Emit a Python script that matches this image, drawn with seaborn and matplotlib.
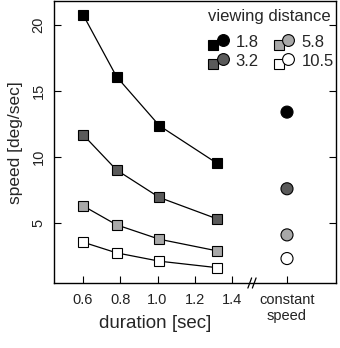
import numpy as np
import pandas as pd
import matplotlib.pyplot as plt
import seaborn as sns
from matplotlib.lines import Line2D
from matplotlib.legend_handler import HandlerBase
from matplotlib.transforms import blended_transform_factory


durations = [0.6, 0.78, 1.01, 1.32]
speed_18 = [20.75, 16.06, 12.35, 9.5]
speed_32 = [11.67, 9.0, 6.92, 5.3]
speed_58 = [6.29, 4.85, 3.76, 2.88]
speed_105 = [3.54, 2.73, 2.1, 1.61]
constant_speed = [13.38, 7.58, 4.09, 2.3]
distances = ['1.8', '3.2', '5.8', '10.5']
colors = ['#000000', '#5a5a5a', '#a8a8a8', '#ffffff']
x_ticks = [0.6, 0.8, 1.0, 1.2, 1.4]
x_constant = 1.695


class PairHandler(HandlerBase):
    # square behind, circle on top, like the original key
    def create_artists(self, legend, orig_handle, xdescent, ydescent,
                       width, height, fontsize, trans):
        fc = orig_handle.get_markerfacecolor()
        x0, y0 = -xdescent, -ydescent
        sq = Line2D([x0 + width * 0.3], [y0 + height * 0.2], marker='s',
                    ms=7, mfc=fc, mec='black', mew=0.8, ls='none', transform=trans)
        ci = Line2D([x0 + width * 0.68], [y0 + height * 0.6], marker='o',
                    ms=8.5, mfc=fc, mec='black', mew=0.8, ls='none', transform=trans)
        return [sq, ci]


sns.set_theme(style='ticks')
plt.rcParams['font.family'] = ['Liberation Sans', 'DejaVu Sans']

fig = plt.figure(figsize=(3.4, 3.48), dpi=100)
ax = fig.add_axes([0.1588, 0.1868, 0.8294, 0.8089])

series = [speed_18, speed_32, speed_58, speed_105]
for vals, col in zip(series, colors):
    sns.lineplot(x=durations, y=vals, ax=ax, color='black', linewidth=0.9,
                 marker='s', markersize=7, markerfacecolor=col,
                 markeredgecolor='black', markeredgewidth=0.8)

df = pd.DataFrame({'x': [x_constant] * 4, 'y': constant_speed, 'd': distances})
sns.scatterplot(data=df, x='x', y='y', hue='d', palette=colors, ax=ax,
                s=75, edgecolor='black', linewidth=0.8, legend=False, zorder=3)

ax.set_xlim(0.444, 1.958)
ax.set_ylim(0.45, 21.75)
ax.set_xticks(x_ticks + [x_constant])
ax.set_xticklabels(['0.6', '0.8', '1.0', '1.2', '1.4', 'constant\nspeed'])
ax.set_yticks([5, 10, 15, 20])
ax.set_yticklabels(['5', '10', '15', '20'], rotation=90, va='center')
ax.tick_params(axis='both', direction='in', length=5, width=0.8,
               labelsize=10.5, color='black', labelcolor='#222222')
ax.tick_params(axis='x', pad=7)
ax.tick_params(axis='y', pad=6, right=True)
for sp in ax.spines.values():
    sp.set_visible(True)
    sp.set_color('black')
    sp.set_linewidth(1.0)

ax.set_xlabel('duration [sec]', fontsize=13.5)
ax.xaxis.set_label_coords(0.36, -0.115)
ax.set_ylabel('speed [deg/sec]', fontsize=12.5, labelpad=6)

# axis break marks
tr = blended_transform_factory(ax.transData, ax.transAxes)
for dx in (-0.012, 0.012):
    ax.plot([1.507 + dx - 0.01, 1.507 + dx + 0.01], [-0.018, 0.018],
            color='black', linewidth=0.9, transform=tr, clip_on=False)

handles = [Line2D([], [], marker='s', markerfacecolor=c) for c in colors]
leg = ax.legend(handles, distances, title='viewing distance', ncol=2,
                loc='upper right', bbox_to_anchor=(1.018, 1.0), frameon=False,
                fontsize=12, title_fontsize=12, handlelength=1.5,
                handletextpad=0.3, columnspacing=0.75, labelspacing=0.25,
                borderaxespad=0.05, handler_map={Line2D: PairHandler()})
# a bit more room between the title and the entries
leg._legend_box.sep = 8

plt.savefig('out.png', dpi=100)
plt.close()
